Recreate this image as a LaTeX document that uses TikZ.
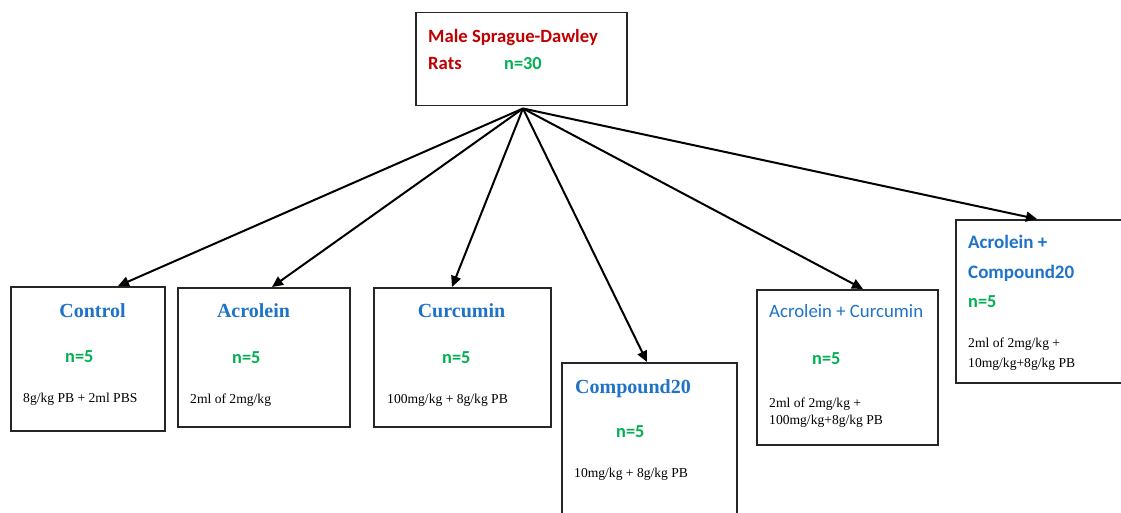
\documentclass[tikz,border=0pt]{standalone}
\usepackage{fontspec}
\setmainfont{Liberation Serif}
\newfontfamily\calib{Carlito}
\usetikzlibrary{arrows.meta,calc}
\definecolor{tred}{RGB}{192,0,0}
\definecolor{tgreen}{RGB}{0,176,80}
\definecolor{tblue}{RGB}{30,115,200}
\begin{document}
\begin{tikzpicture}[x=1pt,y=-1pt,
  box/.style={draw=black!85,line width=1.5pt,inner sep=0pt,anchor=north west,rectangle},
  conn/.style={line width=2pt,-{Triangle[length=11pt,width=10pt]}},
  head/.style={text=tblue,font=\fontsize{20}{22}\selectfont\bfseries,inner sep=0pt,anchor=base},
  chead/.style={text=tblue,font=\calib\fontsize{18.8}{20}\selectfont,inner sep=0pt,anchor=base west},
  cbhead/.style={text=tblue,font=\calib\fontsize{19}{21}\selectfont\bfseries,inner sep=0pt,anchor=base west},
  nn/.style={text=tgreen,font=\calib\fontsize{18.3}{20}\selectfont\bfseries,inner sep=0pt,anchor=base west},
  dose/.style={font=\fontsize{13.6}{15}\selectfont,inner sep=0pt,anchor=base west},
  ttl/.style={text=tred,font=\calib\fontsize{18.7}{20}\selectfont\bfseries,inner sep=0pt,anchor=base west}]
\useasboundingbox (0,0) rectangle (1121,513);
% boxes
\node[box,minimum width=211pt,minimum height=93pt] (top) at (415,12) {};
\node[box,minimum width=154pt,minimum height=144pt] (ctrl) at (10,286) {};
\node[box,minimum width=172pt,minimum height=139pt] (acro) at (177,287) {};
\node[box,minimum width=177pt,minimum height=139pt] (curc) at (373,287) {};
\node[box,minimum width=175pt,minimum height=165pt] (comp) at (561,362) {};
\node[box,minimum width=181pt,minimum height=155pt] (ac) at (756,289) {};
\node[box,minimum width=180pt,minimum height=163pt] (acc) at (955,219) {};
% top text
\node[ttl] (t1) at (428,43) {Male Sprague-Dawley};
\node[ttl] (t2) at (428,70) {Rats};
\node[nn] (t3) at (504,70) {n=30};
% control
\node[head] (h1) at (92.5,317) {Control};
\node[nn] (n1) at (65,362) {n=5};
\node[dose] (d1) at (23,402) {8g/kg PB + 2ml PBS};
% acrolein
\node[head] (h2) at (253.5,317) {Acrolein};
\node[nn] (n2) at (232,363) {n=5};
\node[dose] (d2) at (190,403) {2ml of 2mg/kg};
% curcumin
\node[head] (h3) at (461.5,317) {Curcumin};
\node[nn] (n3) at (442,363) {n=5};
\node[dose] (d3) at (387,403) {100mg/kg + 8g/kg PB};
% compound20
\node[head] (h4) at (633,393) {Compound20};
\node[nn] (n4) at (616,437) {n=5};
\node[dose] (d4) at (574,477) {10mg/kg + 8g/kg PB};
% acrolein + curcumin
\node[chead] (h5) at (769,317) {Acrolein + Curcumin};
\node[nn] (n5) at (812,364) {n=5};
\node[dose] (d5a) at (769,407) {2ml of 2mg/kg +};
\node[dose] (d5b) at (769,424) {100mg/kg+8g/kg PB};
% acrolein + compound20
\node[cbhead] (h6a) at (968,248) {Acrolein +};
\node[cbhead] (h6b) at (968,278) {Compound20};
\node[nn] (n6) at (968,307) {n=5};
\node[dose] (d6a) at (968,347) {2ml of 2mg/kg +};
\node[dose] (d6b) at (968,367) {10mg/kg+8g/kg PB};
% connectors
\coordinate (o) at ($(top.south west)+(108,2)$);
\draw[conn] (o) -- ($(ctrl.north west)+(108,0)$);
\draw[conn] (o) -- ($(acro.north west)+(95,0)$);
\draw[conn] (o) -- ($(curc.north west)+(79,0)$);
\draw[conn] (o) -- ($(comp.north west)+(86,0)$);
\draw[conn] (o) -- ($(ac.north west)+(107,0)$);
\draw[conn] (o) -- ($(acc.north west)+(82,0)$);
\end{tikzpicture}
\end{document}
